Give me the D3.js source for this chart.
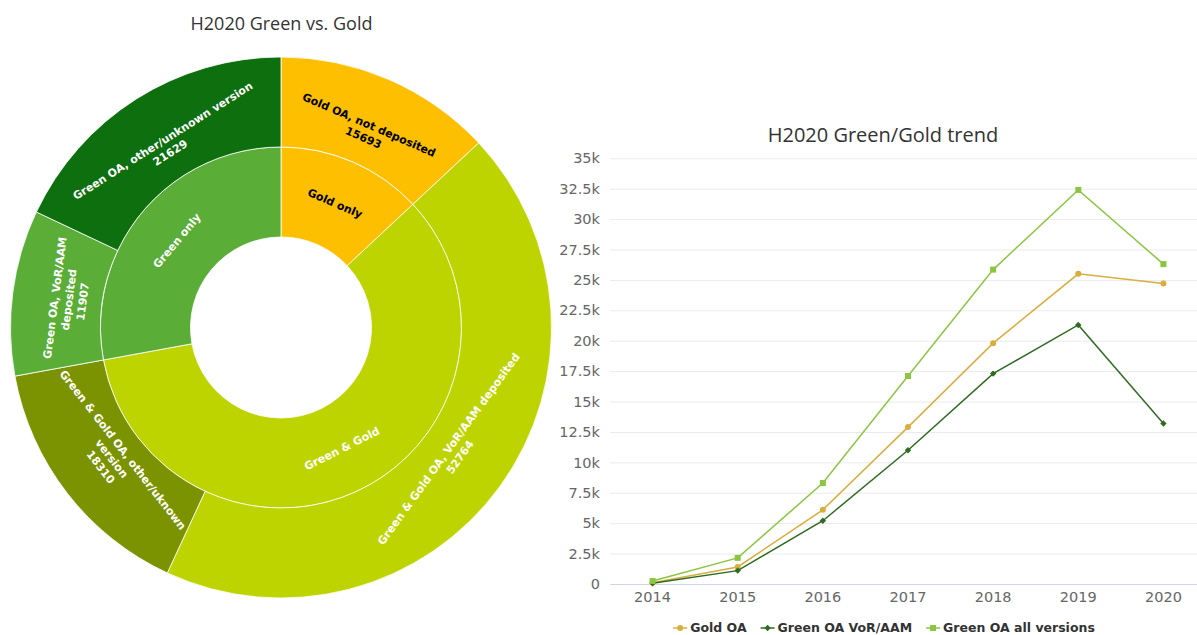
<!DOCTYPE html>
<html><head><meta charset="utf-8">
<script src="https://cdn.jsdelivr.net/npm/d3@7"></script>
<style>body{margin:0;background:#fff} svg{display:block}</style>
</head><body>
<svg id="c" width="1197" height="635"></svg>
<script>
// ---- Sunburst data ----
const innerNames = ["Gold only", "Green & Gold", "Green only"];
const outerNames = ["Gold OA, not deposited", "Green & Gold OA, VoR/AAM deposited", "Green & Gold OA, other/uknown version", "Green OA, VoR/AAM deposited", "Green OA, other/unknown version"];
const outerParents = ["Gold only", "Green & Gold", "Green & Gold", "Green only", "Green only"];
const outerValues = [15693, 52764, 18310, 11907, 21629];
const outerLabelLines = [["Gold OA, not deposited"], ["Green & Gold OA, VoR/AAM deposited"], ["Green & Gold OA, other/uknown", "version"], ["Green OA, VoR/AAM", "deposited"], ["Green OA, other/unknown version"]];
const innerColors = ["#fdbf00", "#bdd400", "#5aad37"];
const outerColors = ["#fdbf00", "#bdd400", "#7b9300", "#5aad37", "#0d6f0d"];
const innerTextColors = ["#000", "#fff", "#fff"];
const outerTextColors = ["#000", "#fff", "#fff", "#fff", "#fff"];

// ---- Line chart data ----
const years = ["2014", "2015", "2016", "2017", "2018", "2019", "2020"];
const seriesNames = ["Gold OA", "Green OA VoR/AAM", "Green OA all versions"];
const goldOA = [100, 1400, 6100, 12900, 19800, 25500, 24700];
const greenVoR = [60, 1100, 5200, 11000, 17300, 21300, 13200];
const greenAll = [250, 2150, 8300, 17100, 25850, 32400, 26300];
const yTicks = [0, 2500, 5000, 7500, 10000, 12500, 15000, 17500, 20000, 22500, 25000, 27500, 30000, 32500, 35000];
const yTickLabels = ["0", "2.5k", "5k", "7.5k", "10k", "12.5k", "15k", "17.5k", "20k", "22.5k", "25k", "27.5k", "30k", "32.5k", "35k"];
const seriesColors = ["#d9ae3e", "#2f6b21", "#8cc540"];
const seriesMarkers = ["circle", "diamond", "square"];

const svg = d3.select("#c");
const LBL_FONT = "'DejaVu Sans', sans-serif";
const TITLE_FONT = "'Open Sans', sans-serif";

// ================= SUNBURST =================
const cx = 281, cy = 327.5, r0 = 90.5, r1 = 180.5, r2 = 270.5;
const innerValues = innerNames.map(n => d3.sum(outerValues.filter((v, i) => outerParents[i] === n)));
const pie = d3.pie().sort(null).value(d => d);
const innerArcs = pie(innerValues);
const outerArcs = pie(outerValues);
const sb = svg.append("g").attr("transform", `translate(${cx},${cy})`);
const arcIn = d3.arc().innerRadius(r0).outerRadius(r1);
const arcOut = d3.arc().innerRadius(r1).outerRadius(r2);
sb.selectAll("path.in").data(innerArcs).join("path").attr("class", "in")
  .attr("d", arcIn).attr("fill", (d, i) => innerColors[i])
  .attr("stroke", "rgba(255,255,255,0.8)").attr("stroke-width", 1);
sb.selectAll("path.out").data(outerArcs).join("path").attr("class", "out")
  .attr("d", arcOut).attr("fill", (d, i) => outerColors[i])
  .attr("stroke", "rgba(255,255,255,0.8)").attr("stroke-width", 1);

function rotFor(a) {
  let deg = a * 180 / Math.PI;
  if (deg > 90 && deg < 270) return deg - 180;
  if (deg >= 270) return deg - 360;
  return deg;
}
function placeLabel(arcD, rad, lines, color) {
  const a = (arcD.startAngle + arcD.endAngle) / 2;
  const x = rad * Math.sin(a), y = -rad * Math.cos(a);
  const lh = 14;
  const t = sb.append("text")
    .attr("transform", `translate(${x},${y}) rotate(${rotFor(a)})`)
    .attr("text-anchor", "middle").attr("fill", color)
    .style("font-family", LBL_FONT).style("font-size", "11px").style("font-weight", "bold");
  lines.forEach((ln, k) => {
    t.append("tspan").attr("x", 0)
      .attr("y", (k - (lines.length - 1) / 2) * lh)
      .attr("dy", "0.35em").text(ln);
  });
}
innerArcs.forEach((d, i) => placeLabel(d, (r0 + r1) / 2, [innerNames[i]], innerTextColors[i]));
outerArcs.forEach((d, i) => placeLabel(d, 214, outerLabelLines[i].concat([String(outerValues[i])]), outerTextColors[i]));

svg.append("text").attr("x", 281.5).attr("y", 30).attr("text-anchor", "middle")
  .attr("fill", "#333").style("font-family", TITLE_FONT).style("font-size", "18px")
  .text("H2020 Green vs. Gold");

// ================= LINE CHART =================
const pl = 610, pr = 1206, pt = 158.3, pb = 584;
const x = d3.scaleBand().domain(years).range([pl, pr]);
const xc = d => x(d) + x.bandwidth() / 2;
const y = d3.scaleLinear().domain([0, 35000]).range([pb, pt]);

const yAxis = svg.append("g").attr("transform", `translate(${pl},0)`)
  .call(d3.axisLeft(y).tickValues(yTicks).tickFormat((d, i) => yTickLabels[i]).tickSize(-(pr - pl)).tickPadding(10));
yAxis.select(".domain").remove();
yAxis.selectAll("line").attr("stroke", "#ebebeb");
yAxis.selectAll("text").attr("fill", "#666").style("font-family", LBL_FONT).style("font-size", "14.5px");

const xAxis = svg.append("g").attr("transform", `translate(0,${pb})`)
  .call(d3.axisBottom(x).tickSize(0).tickPadding(8));
xAxis.select(".domain").attr("stroke", "#ccd6eb");
xAxis.selectAll("text").attr("fill", "#666").style("font-family", LBL_FONT).style("font-size", "14.5px");

const allSeries = [goldOA, greenVoR, greenAll];
const line = d3.line().x((d, i) => xc(years[i])).y(d => y(d));
function drawMarker(g, type, px, py, color) {
  if (type === "circle") g.append("circle").attr("cx", px).attr("cy", py).attr("r", 3).attr("fill", color);
  else if (type === "square") g.append("rect").attr("x", px - 3).attr("y", py - 3).attr("width", 6).attr("height", 6).attr("fill", color);
  else g.append("path").attr("d", `M${px},${py - 3.2}L${px + 3.2},${py}L${px},${py + 3.2}L${px - 3.2},${py}Z`).attr("fill", color);
}
allSeries.forEach((s, k) => {
  const g = svg.append("g");
  g.append("path").attr("d", line(s)).attr("fill", "none").attr("stroke", seriesColors[k]).attr("stroke-width", 1.5);
  s.forEach((v, i) => drawMarker(g, seriesMarkers[k], xc(years[i]), y(v), seriesColors[k]));
});

svg.append("text").attr("x", 883).attr("y", 142).attr("text-anchor", "middle")
  .attr("fill", "#333").style("font-family", TITLE_FONT).style("font-size", "20px")
  .text("H2020 Green/Gold trend");

// legend
const lg = svg.append("g");
const ly = 628;
let items = [];
seriesNames.forEach((n, k) => {
  const ig = lg.append("g");
  ig.append("line").attr("x1", 0).attr("x2", 14).attr("y1", 0).attr("y2", 0).attr("stroke", seriesColors[k]).attr("stroke-width", 1.5);
  drawMarker(ig, seriesMarkers[k], 7, 0, seriesColors[k]);
  const t = ig.append("text").attr("x", 17).attr("y", 0).attr("dy", "0.35em").attr("fill", "#333")
    .style("font-family", LBL_FONT).style("font-size", "12.5px").style("font-weight", "bold").text(n);
  const w = 17 + t.node().getComputedTextLength();
  items.push({ ig, w });
});
const gap = 14;
const total = d3.sum(items, d => d.w) + gap * (items.length - 1);
let sx = 884 - total / 2;
items.forEach(it => { it.ig.attr("transform", `translate(${sx},${ly})`); sx += it.w + gap; });
</script>
</body></html>
